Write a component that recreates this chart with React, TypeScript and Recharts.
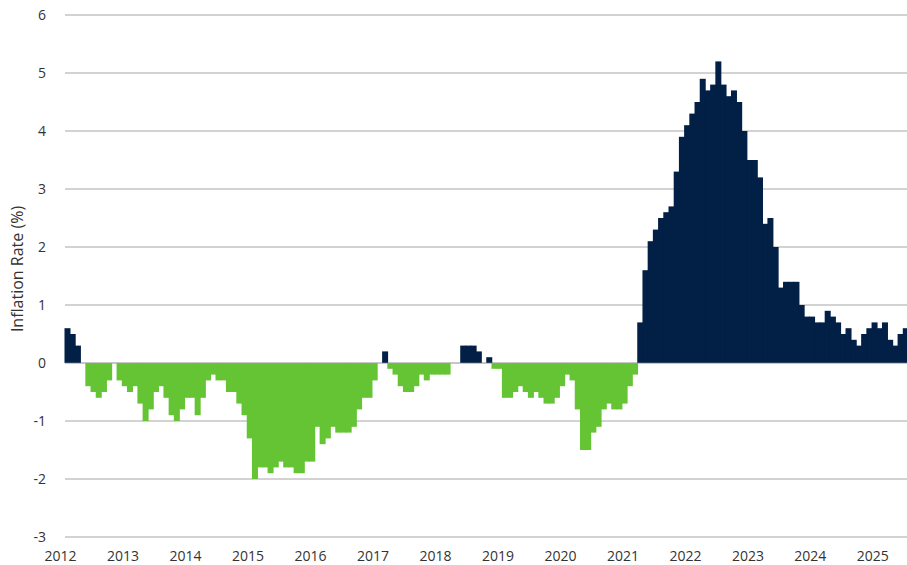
import React from 'react';
import { BarChart, Bar, XAxis, YAxis, CartesianGrid, ReferenceLine } from 'recharts';

const years = [2012, 2013, 2014, 2015, 2016, 2017, 2018, 2019, 2020, 2021, 2022, 2023, 2024, 2025];
const monthNames = ['Jan', 'Feb', 'Mar', 'Apr', 'May', 'Jun', 'Jul', 'Aug', 'Sep', 'Oct', 'Nov', 'Dec'];

// monthly inflation rate (%)
const rate2012 = [0.6, 0.5, 0.3, 0, -0.4, -0.5, -0.6, -0.5, -0.3, 0, -0.3, -0.4];
const rate2013 = [-0.5, -0.4, -0.7, -1.0, -0.8, -0.5, -0.4, -0.6, -0.9, -1.0, -0.8, -0.6];
const rate2014 = [-0.6, -0.9, -0.6, -0.3, -0.2, -0.3, -0.3, -0.5, -0.5, -0.7, -0.9, -1.3];
const rate2015 = [-2.0, -1.8, -1.8, -1.9, -1.8, -1.7, -1.8, -1.8, -1.9, -1.9, -1.7, -1.7];
const rate2016 = [-1.1, -1.4, -1.3, -1.1, -1.2, -1.2, -1.2, -1.1, -0.8, -0.6, -0.6, -0.3];
const rate2017 = [0, 0.2, -0.1, -0.2, -0.4, -0.5, -0.5, -0.4, -0.2, -0.3, -0.2, -0.2];
const rate2018 = [-0.2, -0.2, 0, 0, 0.3, 0.3, 0.3, 0.2, 0, 0.1, -0.1, -0.1];
const rate2019 = [-0.6, -0.6, -0.5, -0.4, -0.5, -0.6, -0.5, -0.6, -0.7, -0.7, -0.6, -0.4];
const rate2020 = [-0.2, -0.3, -0.8, -1.5, -1.5, -1.2, -1.1, -0.8, -0.7, -0.8, -0.8, -0.7];
const rate2021 = [-0.4, -0.2, 0.7, 1.6, 2.1, 2.3, 2.5, 2.6, 2.7, 3.3, 3.9, 4.1];
const rate2022 = [4.3, 4.5, 4.9, 4.7, 4.8, 5.2, 4.8, 4.6, 4.7, 4.5, 4.0, 3.5];
const rate2023 = [3.5, 3.2, 2.4, 2.5, 2.0, 1.3, 1.4, 1.4, 1.4, 1.0, 0.8, 0.8];
const rate2024 = [0.7, 0.7, 0.9, 0.8, 0.7, 0.5, 0.6, 0.4, 0.3, 0.5, 0.6, 0.7];
const rate2025 = [0.6, 0.7, 0.4, 0.3, 0.5, 0.6];

const yTicks = [-3, -2, -1, 0, 1, 2, 3, 4, 5, 6];

const POS = '#021f45';
const NEG = '#65c434';
const GRID = '#a6a6a6';
const TEXT = '#333333';
const FONT = '"Open Sans", "Noto Sans", sans-serif';

const byYear = [rate2012, rate2013, rate2014, rate2015, rate2016, rate2017, rate2018,
  rate2019, rate2020, rate2021, rate2022, rate2023, rate2024, rate2025];

const data = byYear.flatMap((vals, yi) =>
  vals.map((v, mi) => ({ month: `${monthNames[mi]} ${years[yi]}`, rate: v })));

// bars are drawn a touch wider so neighbours merge with no hairline gaps
const SolidBar = (props: any) => {
  const { x, y, width, height, payload } = props;
  if (!height) return null;
  const top = height < 0 ? y + height : y;
  return (
    <rect x={x - 0.5} y={top} width={width + 1} height={Math.abs(height)}
      fill={payload.rate >= 0 ? POS : NEG} />
  );
};

const YearTick = (props: any) => {
  const { x, y, payload } = props;
  const label: string = payload.value;
  if (!label.startsWith('Jan')) return null;
  return (
    <text x={x - 7} y={y + 18} textAnchor="middle" dominantBaseline="central"
      fontFamily={FONT} fontSize={14} fill={TEXT}>
      {label.slice(4)}
    </text>
  );
};

const YLabel = (props: any) => {
  const { viewBox } = props;
  const cx = 17;
  const cy = viewBox.y + viewBox.height / 2 - 7;
  return (
    <text x={cx} y={cy} transform={`rotate(-90, ${cx}, ${cy})`} textAnchor="middle"
      dominantBaseline="central" fontFamily={FONT} fontSize={16} fill={TEXT}>
      Inflation Rate (%)
    </text>
  );
};

export default function App() {
  return (
    <div style={{ position: 'absolute', left: 0, top: 0, width: 907, height: 565, overflow: 'hidden', background: '#fff' }}>
      <BarChart width={910} height={565} data={data}
        margin={{ top: 15, right: 1.5, bottom: 0, left: 0 }}
        barCategoryGap="0%" barGap={0}>
        <CartesianGrid vertical={false} stroke={GRID} />
        <XAxis dataKey="month" interval={0} tick={<YearTick />} tickLine={false} axisLine={false}
          tickSize={0} tickMargin={0} height={28} />
        <YAxis domain={[-3, 6]} ticks={yTicks} width={65} tickLine={false} axisLine={false}
          tickSize={0} tickMargin={19} tick={{ fontFamily: FONT, fontSize: 14, fill: TEXT }}
          label={<YLabel />} />
        <Bar dataKey="rate" isAnimationActive={false} shape={<SolidBar />} />
        <ReferenceLine y={0} stroke={GRID} strokeOpacity={0.5} />
      </BarChart>
    </div>
  );
}
